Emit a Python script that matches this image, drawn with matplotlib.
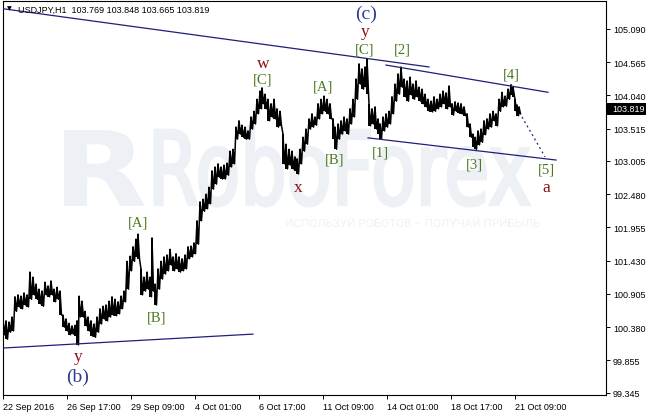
import matplotlib
matplotlib.use("Agg")
import matplotlib.pyplot as plt
from matplotlib.textpath import TextPath
from matplotlib.patches import PathPatch, Rectangle
from matplotlib.font_manager import FontProperties
from matplotlib.transforms import Affine2D, IdentityTransform

#############################################################
# Data (x = H1 bar number, 1 bar per pixel)
#############################################################

bar_idx = [0, 3, 6, 9, 12, 15, 18, 21, 24, 27, 30, 33, 36, 39, 42, 45, 48, 51, 54, 57,
           60, 63, 66, 69, 72, 74, 76, 79, 82, 85, 88, 91, 94, 97, 100, 103, 106, 109, 112, 115,
           118, 121, 124, 127, 130, 133, 135, 138, 141, 144, 147, 149, 152, 155, 158, 161, 164, 167, 170, 173,
           176, 179, 182, 185, 188, 191, 194, 197, 200, 203, 206, 209, 212, 215, 218, 221, 224, 227, 230, 233,
           236, 239, 242, 245, 248, 251, 254, 257, 259, 262, 265, 268, 271, 274, 277, 280, 283, 286, 289, 292,
           294, 297, 300, 303, 306, 309, 312, 315, 318, 321, 324, 327, 330, 332, 335, 338, 341, 344, 347, 350,
           353, 356, 359, 362, 364, 366, 369, 372, 375, 377, 380, 383, 386, 389, 392, 395, 398, 401, 404, 407,
           410, 413, 416, 419, 422, 425, 428, 431, 434, 437, 440, 443, 446, 449, 452, 455, 458, 461, 464, 467,
           470, 472, 475, 478, 481, 484, 487, 490, 493, 496, 499, 502, 505, 508, 510, 512, 514, 516]

bar_high = [100.51, 100.48, 100.46, 100.54, 100.86, 100.89, 100.87, 100.92, 100.89, 101.25,
            101.17, 101.06, 100.98, 100.95, 101.09, 101.03, 101.11, 100.98, 101.01, 100.95,
            100.57, 100.51, 100.44, 100.40, 100.41, 100.48, 100.87, 100.79, 100.63, 100.54,
            100.48, 100.43, 100.54, 100.67, 100.71, 100.73, 100.79, 100.86, 100.82, 100.78,
            100.87, 100.95, 101.42, 101.50, 101.65, 101.77, 101.85, 101.30, 101.17, 101.25,
            101.17, 101.79, 101.06, 101.30, 101.42, 101.49, 101.52, 101.61, 101.49, 101.54,
            101.49, 101.46, 101.52, 101.65, 101.66, 101.71, 102.06, 102.36, 102.40, 102.48,
            102.59, 102.85, 102.91, 102.96, 102.91, 102.94, 102.97, 103.16, 103.19, 103.54,
            103.64, 103.57, 103.54, 103.48, 103.70, 103.79, 103.98, 104.11, 104.16, 104.06,
            103.98, 103.91, 103.98, 103.83, 103.79, 103.43, 103.27, 103.19, 103.16, 103.07,
            103.04, 103.19, 103.38, 103.51, 103.67, 103.75, 103.70, 103.91, 103.98, 104.03,
            103.98, 103.91, 103.67, 103.54, 103.59, 103.64, 103.70, 103.67, 103.83, 103.98,
            104.30, 104.54, 104.46, 104.49, 104.62, 103.91, 103.83, 103.86, 103.67, 103.59,
            103.70, 103.75, 103.79, 104.02, 104.22, 104.38, 104.49, 104.30, 104.27, 104.33,
            104.22, 104.27, 104.17, 104.14, 104.06, 103.98, 103.95, 104.02, 103.98, 104.06,
            104.11, 104.08, 104.19, 103.91, 103.94, 103.92, 103.91, 103.86, 103.75, 103.59,
            103.43, 103.38, 103.48, 103.51, 103.64, 103.67, 103.75, 103.79, 103.75, 103.98,
            104.09, 104.03, 104.14, 104.21, 104.17, 103.98, 103.89, 103.86]

bar_low = [100.26, 100.19, 100.30, 100.32, 100.63, 100.70, 100.67, 100.73, 100.70, 100.82,
           100.89, 100.82, 100.75, 100.71, 100.89, 100.86, 100.89, 100.78, 100.82, 100.57,
           100.38, 100.32, 100.26, 100.27, 100.24, 100.10, 100.54, 100.54, 100.40, 100.32,
           100.24, 100.22, 100.30, 100.43, 100.51, 100.48, 100.54, 100.57, 100.56, 100.59,
           100.67, 100.78, 100.98, 101.27, 101.42, 101.49, 101.46, 100.89, 100.95, 100.98,
           100.86, 100.95, 100.73, 100.98, 101.14, 101.22, 101.27, 101.36, 101.27, 101.30,
           101.25, 101.27, 101.30, 101.46, 101.49, 101.54, 101.69, 102.06, 102.21, 102.25,
           102.33, 102.56, 102.64, 102.75, 102.72, 102.72, 102.78, 102.91, 102.96, 103.35,
           103.43, 103.38, 103.35, 103.35, 103.51, 103.59, 103.75, 103.83, 103.91, 103.83,
           103.64, 103.70, 103.67, 103.54, 103.56, 102.96, 102.88, 102.94, 102.88, 102.85,
           102.80, 102.96, 103.16, 103.27, 103.51, 103.54, 103.57, 103.67, 103.75, 103.79,
           103.75, 103.67, 103.35, 103.19, 103.35, 103.43, 103.48, 103.43, 103.59, 103.70,
           103.98, 104.22, 104.14, 104.17, 104.06, 103.56, 103.59, 103.51, 103.43, 103.35,
           103.48, 103.54, 103.59, 103.75, 103.95, 104.06, 104.17, 104.02, 103.95, 104.05,
           103.98, 104.02, 103.95, 103.91, 103.86, 103.79, 103.78, 103.79, 103.83, 103.86,
           103.91, 103.83, 103.86, 103.73, 103.79, 103.76, 103.75, 103.72, 103.54, 103.38,
           103.23, 103.19, 103.26, 103.30, 103.42, 103.51, 103.54, 103.64, 103.56, 103.79,
           103.86, 103.87, 103.98, 104.05, 104.02, 103.79, 103.72, 103.75]

last_close = 103.819
header = "USDJPY,H1  103.769 103.848 103.665 103.819"

time_ticks = [0, 64, 128, 192, 256, 320, 384, 448, 512]
time_labels = ["22 Sep 2016", "26 Sep 17:00", "29 Sep 09:00", "4 Oct 01:00", "6 Oct 17:00",
               "11 Oct 09:00", "14 Oct 01:00", "18 Oct 17:00", "21 Oct 09:00"]
price_ticks = [105.090, 104.565, 104.040, 103.515, 103.005, 102.480,
               101.955, 101.430, 100.905, 100.380, 99.855, 99.345]

# trend / channel lines: (bar, price) -> (bar, price)
trend_lines = [
    ((0, 105.41), (426, 104.49)),
    ((383, 104.52), (545, 104.09)),
    ((365, 103.37), (553, 103.02)),
    ((0, 100.05), (250, 100.27)),
]
forecast_line = ((519, 103.70), (542, 103.07))

# wave labels: text, bar, price, kind
wave_labels = [
    ("(c)", 363, 105.33, "major"),
    ("y", 362, 105.06, "minor"),
    ("[C]", 362, 104.77, "sub"),
    ("[2]", 399, 104.77, "sub"),
    ("[4]", 508, 104.38, "sub"),
    ("[1]", 377, 103.15, "sub"),
    ("[3]", 471, 102.96, "sub"),
    ("[5]", 543, 102.88, "sub"),
    ("a", 543, 102.60, "minor"),
    ("w", 260, 104.55, "minor"),
    ("[C]", 260, 104.30, "sub"),
    ("[A]", 320, 104.19, "sub"),
    ("x", 295, 102.60, "minor"),
    ("[B]", 332, 103.04, "sub"),
    ("[A]", 135, 102.04, "sub"),
    ("[B]", 154, 100.54, "sub"),
    ("y", 75, 99.93, "minor"),
    ("(b)", 75, 99.61, "major"),
]

#############################################################
# Style
#############################################################

W, H = 646, 414
axis_font = "Liberation Sans"
label_font = "Liberation Serif"
line_color = "#1f1f7a"
label_style = {
    "major": dict(color="#2f3c94", size=14),
    "minor": dict(color="#8b1010", size=12.5),
    "sub": dict(color="#4a7a20", size=10.5),
}
wm_color = "#edf0f4"


def fit_text(ax, text, box, prop, color, stroke=0.0):
    # stretch a text path into a pixel box (x0, top, x1, bottom), y from top
    tp = TextPath((0, 0), text, size=100, prop=prop)
    ext = tp.get_extents()
    x0, top, x1, bottom = box
    sx = (x1 - x0) / ext.width
    sy = (bottom - top) / ext.height
    tr = Affine2D().translate(-ext.x0, -ext.y0).scale(sx, sy).translate(x0, H - bottom)
    patch = PathPatch(tr.transform_path(tp), facecolor=color, edgecolor=color, lw=stroke,
                      transform=IdentityTransform(), zorder=0.5, clip_on=False)
    ax.add_artist(patch)


fig = plt.figure(figsize=(W / 100, H / 100), dpi=100)
ax = fig.add_axes([3 / W, 18 / H, 603 / W, 394 / H])
ax.set_xlim(0, 603)
ax.set_ylim(99.308, 105.532)

# watermark
fit_text(ax, "R", (64, 131, 145, 207), FontProperties(family="DejaVu Sans", weight="bold"), wm_color)
fit_text(ax, "RoboForex", (155, 128, 529, 207), FontProperties(family="DejaVu Sans"), wm_color, stroke=2.2)
fit_text(ax, "ИСПОЛЬЗУЙ РОБОТОВ – ПОЛУЧАЙ ПРИБЫЛЬ", (286, 218, 540, 228),
         FontProperties(family="Roboto"), "#f0f2f5")

# price bars
zx, zy = [], []
for i, hi, lo in zip(bar_idx, bar_high, bar_low):
    zx += [i, i + 1.5]
    zy += [hi, lo]
ax.plot(zx, zy, color="black", lw=1.1, zorder=3)
ax.vlines(bar_idx, bar_low, bar_high, color="black", lw=1.4, zorder=3)

for (x0, y0), (x1, y1) in trend_lines:
    ax.plot([x0, x1], [y0, y1], color=line_color, lw=0.9, zorder=4)
(fx0, fy0), (fx1, fy1) = forecast_line
ax.plot([fx0, fx1], [fy0, fy1], color=line_color, lw=0.9, ls=(0, (1.5, 2.5)), zorder=4)

for txt, x, y, kind in wave_labels:
    st = label_style[kind]
    ax.text(x, y, txt, ha="center", va="center", family=label_font,
            color=st["color"], fontsize=st["size"], zorder=5)

# axes
for s in ax.spines.values():
    s.set_linewidth(0.8)
    s.set_color("black")
ax.yaxis.tick_right()
ax.set_yticks(price_ticks, [f"{p:.3f}" for p in price_ticks])
ax.set_xticks(time_ticks, time_labels)
ax.tick_params(axis="both", length=3, width=0.7, labelsize=6.5, pad=2)
for lbl in ax.get_xticklabels():
    lbl.set_ha("left")
    lbl.set_family(axis_font)
for lbl in ax.get_yticklabels():
    lbl.set_family(axis_font)

# header and last price box
fig.text(18 / W, 1 - 10 / H, header, fontsize=6.5, family=axis_font, va="center", ha="left")
fig.text(9 / W, 1 - 9 / H, "▼", fontsize=4.5, va="center", ha="center")
fig.add_artist(Rectangle((607 / W, 1 - 116 / H), 39 / W, 12 / H, transform=fig.transFigure,
                         facecolor="black", edgecolor="none"))
fig.text(612 / W, 1 - 110 / H, f"{last_close:.3f}", color="white", fontsize=6.5,
         family=axis_font, va="center", ha="left")

fig.savefig("out.png", dpi=100, facecolor="white")
